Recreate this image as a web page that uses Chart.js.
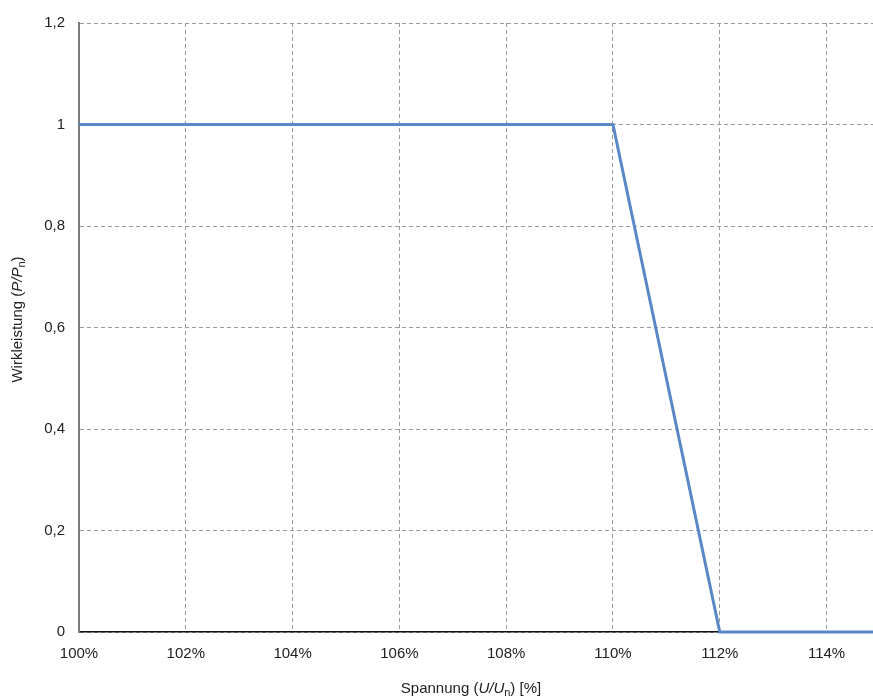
<!DOCTYPE html>
<html>
<head>
<meta charset="utf-8">
<script src="https://cdn.jsdelivr.net/npm/chart.js@4/dist/chart.umd.min.js"></script>
<style>
html,body{margin:0;padding:0;background:#fff;overflow:hidden;}
#wrap{width:873px;height:700px;position:relative;}
</style>
</head>
<body>
<div id="wrap"><canvas id="c" width="873" height="700"></canvas></div>
<script>
// Data (voltage in % of nominal, active power P/Pn)
const voltage = [100, 110, 112, 115];
const power   = [1,   1,   0,   0];
const xMin = 100, xMax = 114.87, xStep = 2;
const yMin = 0, yMax = 1.2, yStep = 0.2;
const xTitleParts = [
  {t: 'Spannung ('}, {t: 'U/U', i: true}, {t: 'n', sub: true}, {t: ') [%]'}
];
const yTitleParts = [
  {t: 'Wirkleistung ('}, {t: 'P/P', i: true}, {t: 'n', sub: true}, {t: ')'}
];

const FONT = '"Liberation Sans", Arial, sans-serif';

function drawRich(ctx, parts, size) {
  const fontFor = p => (p.i ? 'italic ' : '') + (p.sub ? Math.round(size * 0.7) : size) + 'px ' + FONT;
  let total = 0;
  parts.forEach(p => { ctx.font = fontFor(p); p.w = ctx.measureText(p.t).width; total += p.w; });
  let x = -total / 2;
  parts.forEach(p => {
    ctx.font = fontFor(p);
    ctx.fillText(p.t, x, p.sub ? size * 0.25 : 0);
    x += p.w;
  });
}

const titlesPlugin = {
  id: 'richTitles',
  afterDraw(chart) {
    const ctx = chart.ctx;
    const a = chart.chartArea;
    ctx.save();
    ctx.fillStyle = '#222';
    ctx.textBaseline = 'middle';
    ctx.textAlign = 'left';
    ctx.translate((a.left + a.right) / 2 - 5, 689);
    drawRich(ctx, xTitleParts, 15);
    ctx.restore();
    ctx.save();
    ctx.fillStyle = '#222';
    ctx.textBaseline = 'middle';
    ctx.textAlign = 'left';
    ctx.translate(18, (a.top + a.bottom) / 2 - 8);
    ctx.rotate(-Math.PI / 2);
    drawRich(ctx, yTitleParts, 15);
    ctx.restore();
  }
};

new Chart(document.getElementById('c'), {
  type: 'line',
  data: {
    datasets: [{
      data: voltage.map((v, k) => ({x: v, y: power[k]})),
      borderColor: '#5a87c6',
      borderWidth: 3,
      pointRadius: 0,
      tension: 0,
      fill: false,
      clip: {left: 5, top: 5, right: 0, bottom: 5}
    }]
  },
  options: {
    responsive: false,
    animation: false,
    devicePixelRatio: 1,
    layout: {padding: {top: 22, right: 0, left: 0, bottom: 0}},
    plugins: {legend: {display: false}, tooltip: {enabled: false}},
    scales: {
      x: {
        type: 'linear',
        min: xMin, max: xMax,
        afterFit(s) { s.height = 68; },
        ticks: {
          stepSize: xStep, includeBounds: false, padding: 13,
          color: '#222', font: {family: FONT, size: 15},
          maxRotation: 0,
          callback: v => Math.round(v) + '%'
        },
        grid: {color: '#9a9a9a', lineWidth: 1, drawTicks: false, tickLength: 0},
        border: {display: true, color: '#111', width: 1.5, dash: [4, 3]}
      },
      y: {
        min: yMin, max: yMax,
        afterFit(s) { s.width = 79; },
        ticks: {
          stepSize: yStep, padding: 14,
          color: '#222', font: {family: FONT, size: 15},
          callback: v => String(Math.round(v * 10) / 10).replace('.', ',')
        },
        grid: {color: '#9a9a9a', lineWidth: 1, drawTicks: false, tickLength: 0},
        border: {display: true, color: '#7a7a7a', width: 2, dash: [4, 3]}
      }
    }
  },
  plugins: [titlesPlugin]
});
</script>
</body>
</html>
